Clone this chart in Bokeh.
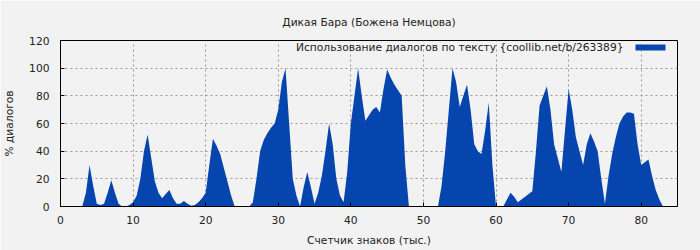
from bokeh.plotting import figure
from bokeh.models import Label, BoxAnnotation, FixedTicker, Range1d
from bokeh.embed import file_html
from bokeh.resources import INLINE

title = "Дикая Бара (Божена Немцова)"
x_label = "Счетчик знаков (тыс.)"
y_label = "% диалогов"
legend_label = "Использование диалогов по тексту {coollib.net/b/263389}"

x_vals = [i * 0.5 for i in range(0, 169)]
y_vals = [
    0, 0, 0, 0, 0, 0, 0, 10, 30, 15, 2,          # 0-5
    1, 2, 10, 19, 10, 2, 0, 0, 1, 3,             # 5.5-10
    8, 20, 40, 52, 35, 18, 10, 6, 9, 12,         # 10.5-15
    6, 2, 2, 4, 2, 0.5, 1, 3, 6, 10,             # 15.5-20
    30, 49, 44, 38, 28, 18, 8, 0, 0, 0,          # 20.5-25
    0, 0, 3, 20, 40, 48, 53, 57, 60, 70,         # 25.5-30
    90, 100, 60, 20, 8, 0, 14, 25, 14, 2,        # 30.5-35
    10, 22, 40, 60, 45, 20, 8, 3, 25, 60,        # 35.5-40
    80, 100, 80, 62, 66, 70, 72, 68, 85, 99,     # 40.5-45
    93, 88, 84, 80, 30, 0, 0, 0, 0, 0,           # 45.5-50
    0, 0, 0, 0, 15, 40, 70, 100, 90, 72,         # 50.5-55
    80, 88, 70, 45, 40, 38, 55, 75, 30, 0,       # 55.5-60
    0, 0, 5, 10, 7, 3, 5, 7, 9, 11,              # 60.5-65
    40, 73, 80, 87, 70, 45, 35, 25, 55, 85,      # 65.5-70
    70, 50, 40, 30, 45, 53, 47, 40, 20, 2,       # 70.5-75
    22, 38, 50, 60, 65, 68, 68, 67, 45, 30,      # 75.5-80
    32, 34, 22, 12, 5, 0, 0, 0,                  # 80.5-84
]
x_ticks = [0, 10, 20, 30, 40, 50, 60, 70, 80]
y_ticks = [0, 20, 40, 60, 80, 100, 120]

FONT = "DejaVu Sans"
FS = "10.7px"
BG = "#f2f2f2"
BLUE = "#0645ad"

p = figure(width=700, height=250, output_backend="svg", toolbar_location=None,
           x_range=Range1d(0, 85), y_range=Range1d(0, 120),
           min_border_left=60, min_border_right=23, min_border_top=40, min_border_bottom=44)
p.background_fill_color = BG
p.border_fill_color = BG
p.outline_line_color = "black"
p.outline_line_width = 1

p.title.text = title
p.title.align = "center"
p.title.text_font = FONT
p.title.text_font_size = FS
p.title.text_font_style = "normal"
p.title.text_color = "#222222"
p.title.standoff = 24

p.varea(x=x_vals, y1=[0] * len(x_vals), y2=y_vals, fill_color=BLUE)

for ax, ticks, lab in ((p.xaxis, x_ticks, x_label), (p.yaxis, y_ticks, y_label)):
    ax.ticker = FixedTicker(ticks=ticks)
    ax.axis_label = lab
    ax.axis_label_text_font = FONT
    ax.axis_label_text_font_size = FS
    ax.axis_label_text_font_style = "normal"
    ax.major_label_text_font = FONT
    ax.major_label_text_font_size = FS
    ax.major_tick_in = 4
    ax.major_tick_out = 0
    ax.minor_tick_in = 0
    ax.minor_tick_out = 0
    ax.axis_line_color = "black"
    ax.major_label_text_color = "#222222"
    ax.axis_label_text_color = "#222222"
p.xaxis.major_label_standoff = 9
p.xaxis.axis_label_standoff = 7
p.yaxis.major_label_standoff = 11
p.yaxis.axis_label_standoff = 10

for g in (p.xgrid, p.ygrid):
    g.grid_line_color = "#999999"
    g.grid_line_dash = "2 3"
    g.grid_line_width = 1

p.add_layout(Label(x=563, y=159, x_units="screen", y_units="screen", text=legend_label,
                   text_font=FONT, text_font_size=FS, text_align="right",
                   text_baseline="middle", text_color="#222222"))
p.add_layout(BoxAnnotation(left=575, right=605, bottom=156, top=162,
                           left_units="screen", right_units="screen",
                           top_units="screen", bottom_units="screen",
                           fill_color=BLUE, fill_alpha=1, line_color=None))

open("out.html", "w").write(file_html(p, INLINE))
